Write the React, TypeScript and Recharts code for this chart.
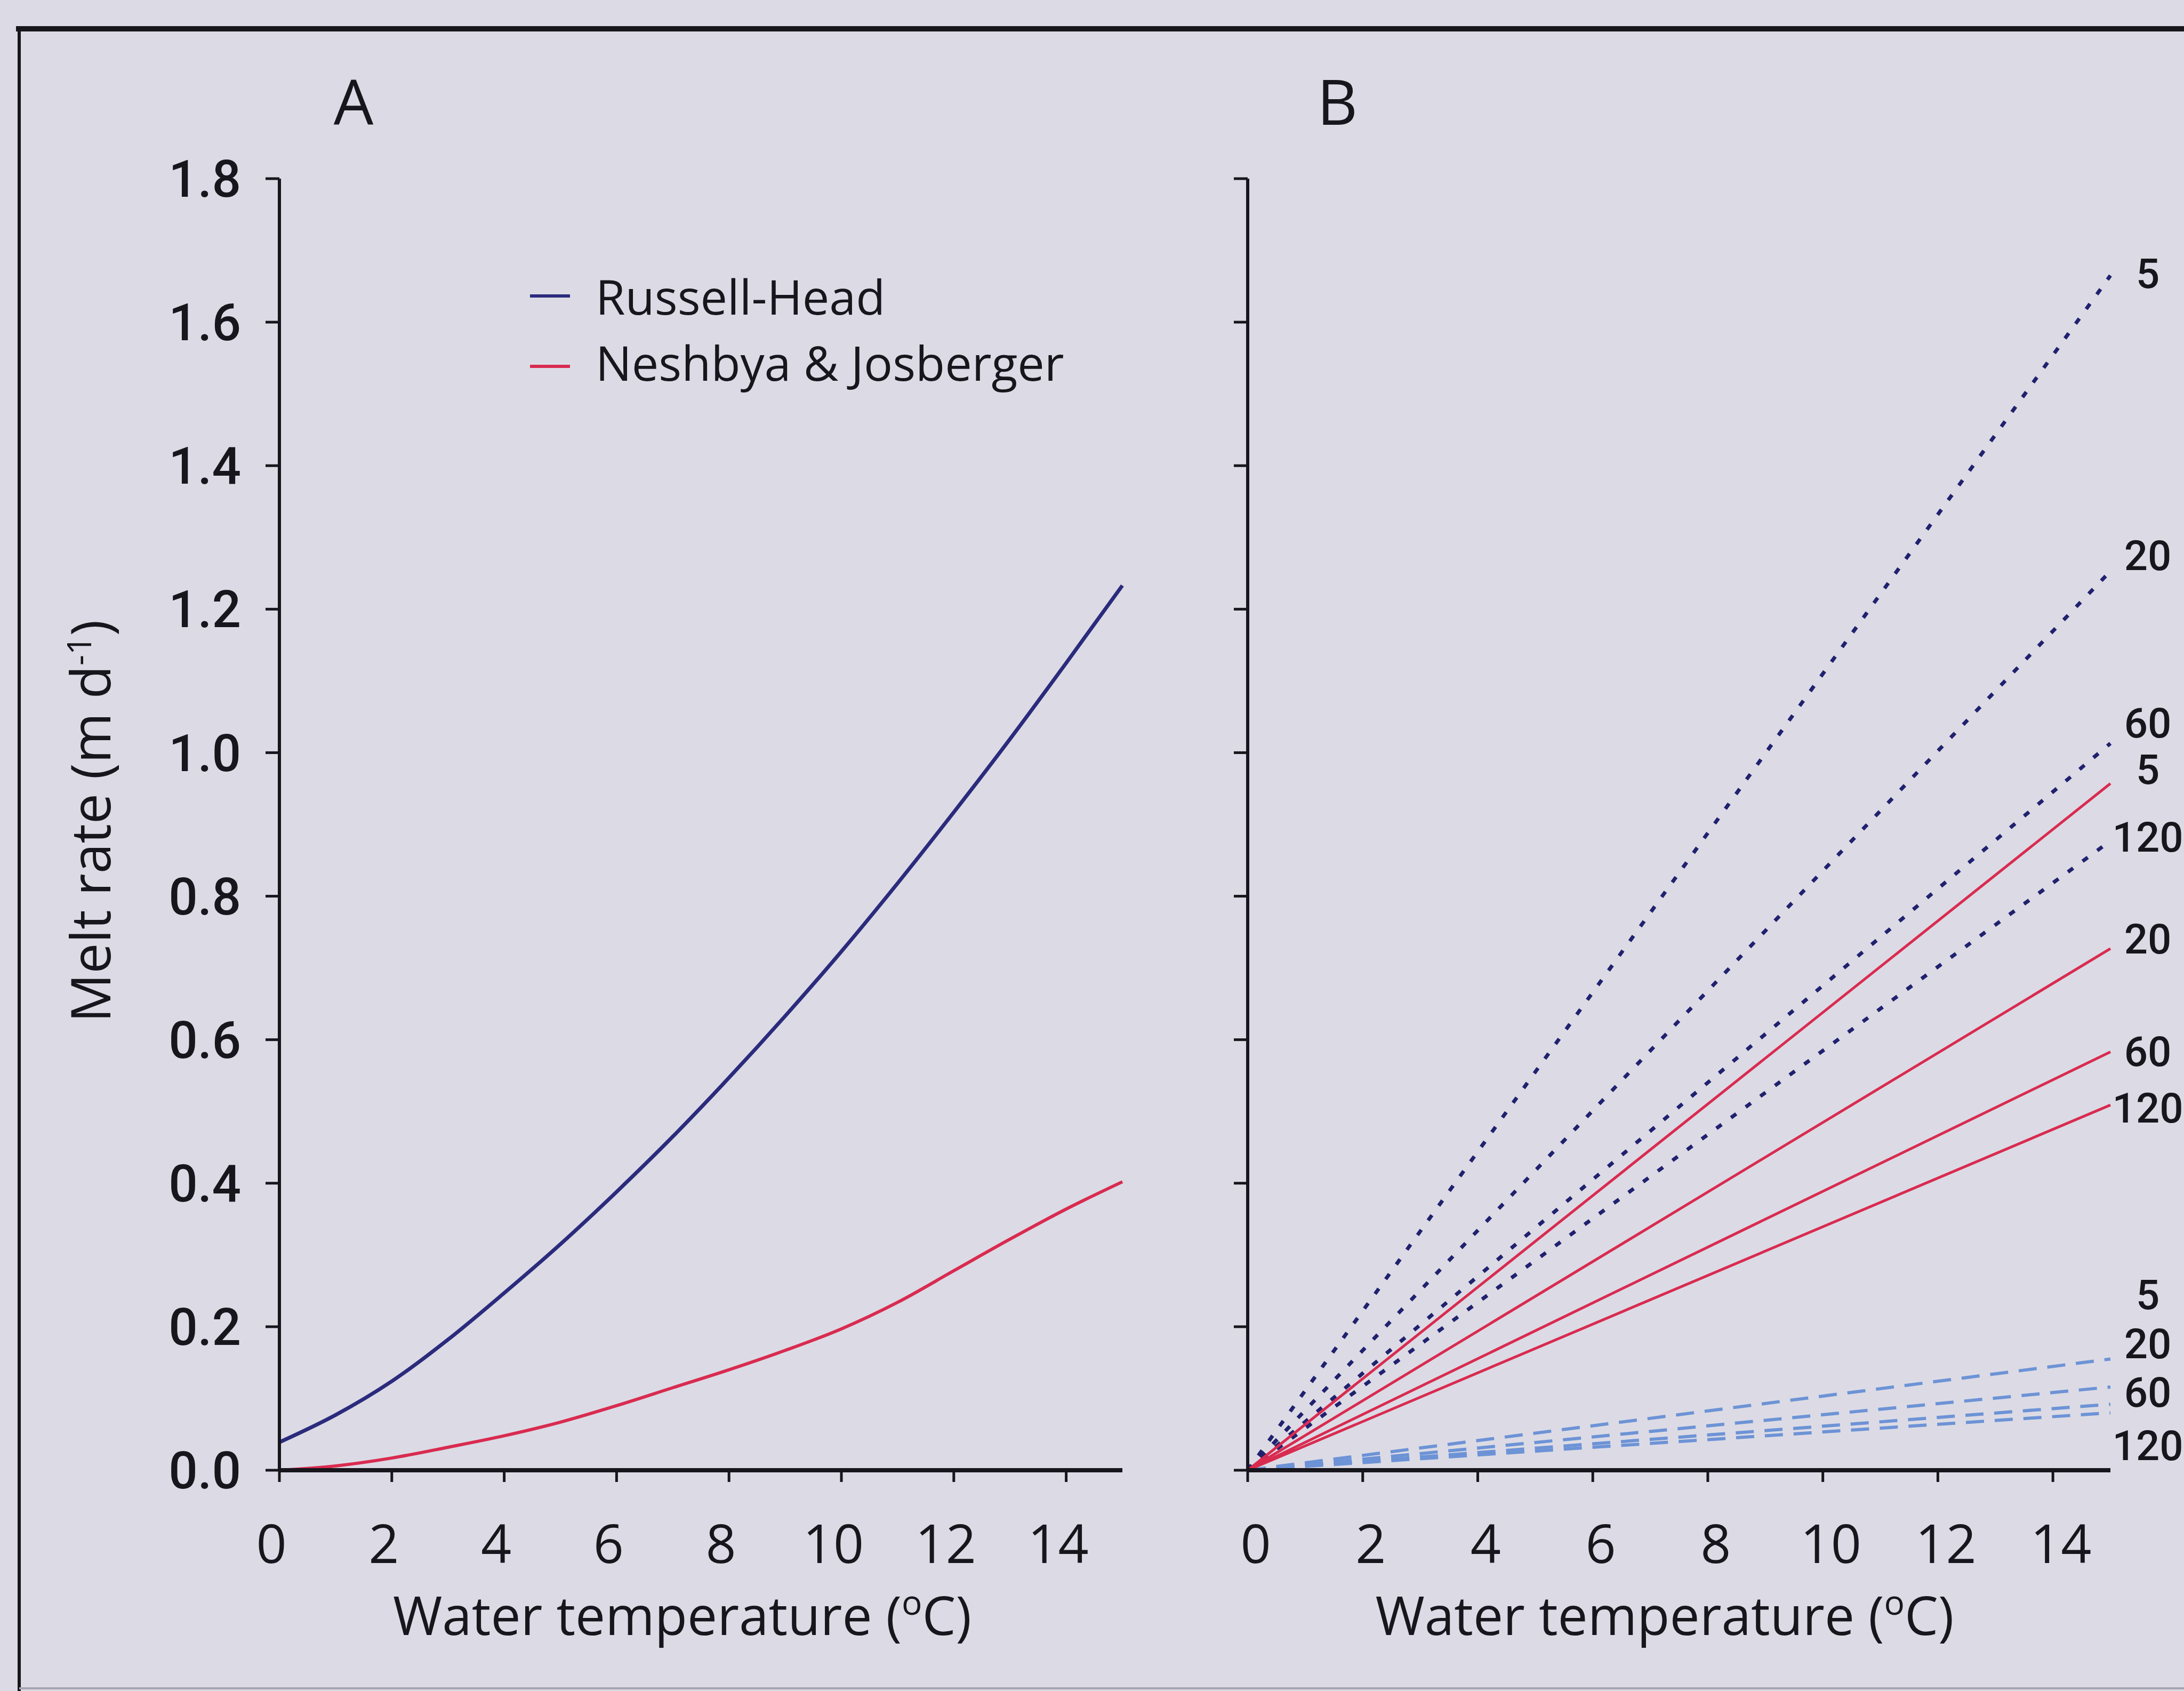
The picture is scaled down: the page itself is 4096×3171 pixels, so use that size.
import React from 'react';
import { LineChart, Line, XAxis, YAxis, Legend, Label, ReferenceDot } from 'recharts';

// ---- panel A: melt rate vs water temperature ----
const temps = [0, 1, 2, 3, 4, 5, 6, 7, 8, 9, 10, 11, 12, 13, 14, 15];
const russellHead = [0.039, 0.077, 0.124, 0.182, 0.247, 0.315, 0.388, 0.465, 0.547, 0.633, 0.723, 0.818, 0.917, 1.019, 1.125, 1.233];
const neshbyaJosberger = [0, 0.006, 0.017, 0.032, 0.048, 0.067, 0.09, 0.115, 0.14, 0.167, 0.197, 0.234, 0.278, 0.322, 0.364, 0.402];
const legendOrder = ['Russell-Head', 'Neshbya & Josberger'];

// ---- panel B: straight lines from the origin, one per iceberg size ----
const bTemps = [0, 15];
const sizes = ['5', '20', '60', '120'];
const rhDotted = [[0, 1.665], [0, 1.253], [0, 1.013], [0, 0.877]];
const njSolid = [[0, 0.957], [0, 0.727], [0, 0.583], [0, 0.509]];
const lowDashed = [[0, 0.155], [0, 0.116], [0, 0.092], [0, 0.08]];

// labels at the right of panel B (value axis position of each tag)
const tagTexts = ['5', '20', '60', '5', '120', '20', '60', '120', '5', '20', '60', '120'];
const tagValues = [1.668, 1.275, 1.042, 0.977, 0.883, 0.741, 0.584, 0.505, 0.245, 0.177, 0.109, 0.035];
const tagTemp = 15.65;

const xTicks = [0, 2, 4, 6, 8, 10, 12, 14];
const yTicks = [0, 0.2, 0.4, 0.6, 0.8, 1.0, 1.2, 1.4, 1.6, 1.8];

const BG = '#dcdbe5';
const INK = '#16161c';
const NAVY = '#2b2b7d';
const RED = '#d92b50';
const DOT_NAVY = '#20216e';
const LIGHT_BLUE = '#6d93d6';
const FONT = '"Open Sans", sans-serif';
const TICK_FONT = 'Roboto, sans-serif';

const dataA = temps.map((t, i) => ({ t, rh: russellHead[i], nj: neshbyaJosberger[i] }));

const dataB = bTemps.map((t, i) => {
  const row: any = { t };
  sizes.forEach((s, k) => {
    row['rh' + s] = rhDotted[k][i];
    row['nj' + s] = njSolid[k][i];
    row['lo' + s] = lowDashed[k][i];
  });
  return row;
});

const xTitle = (shift: number) => (props: any) => {
  const { x, y, width } = props.viewBox;
  return (
    <text x={x + width / 2 + shift} y={y + 309} textAnchor="middle" fontFamily={FONT} fontSize={100} fill={INK}>
      Water temperature (<tspan fontSize={64} dy={-38}>o</tspan>
      <tspan dy={38}>C)</tspan>
    </text>
  );
};

const yTitle = (props: any) => {
  const { y, height } = props.viewBox;
  return (
    <text transform={`translate(207,${y + height / 2 - 6}) rotate(-90)`} textAnchor="middle" fontFamily={FONT} fontSize={102} fill={INK}>
      Melt rate (m d<tspan fontSize={62} dy={-36}>-1</tspan>
      <tspan dy={36}>)</tspan>
    </text>
  );
};

// legend box starts 100px above the first sample line so the text is not clipped
const renderLegend = (props: any) => {
  const items = [...(props.payload || [])].sort(
    (a: any, b: any) => legendOrder.indexOf(a.value) - legendOrder.indexOf(b.value)
  );
  return (
    <svg width={1200} height={380} style={{ overflow: 'visible' }}>
      {items.map((it: any, i: number) => (
        <g key={i}>
          <line x1={4} x2={79} y1={155 + i * 132} y2={155 + i * 132} stroke={it.color} strokeWidth={6} />
          <text x={127} y={190 + i * 124} fontFamily={FONT} fontSize={90} fill={INK}>{it.value}</text>
        </g>
      ))}
    </svg>
  );
};

const axisLine = { stroke: INK, strokeWidth: 8 };
const yLine = { stroke: INK, strokeWidth: 6 };
const tickLine = { stroke: INK, strokeWidth: 5 };

export default function App() {
  return (
    <div style={{ position: 'absolute', left: 0, top: 0, width: 4096, height: 3171, background: BG, overflow: 'hidden' }}>
      <svg width={4096} height={3171} style={{ position: 'absolute', left: 0, top: 0 }}>
        <line x1={30} x2={4096} y1={54} y2={54} stroke={INK} strokeWidth={10} />
        <line x1={36} x2={36} y1={50} y2={3171} stroke={INK} strokeWidth={6} />
        <line x1={36} x2={4096} y1={3166} y2={3166} stroke="#a6a5b2" strokeWidth={4} />
        <text x={663} y={234} textAnchor="middle" fontFamily={FONT} fontSize={118} fill={INK}>A</text>
        <text x={2508} y={234} textAnchor="middle" fontFamily={FONT} fontSize={118} fill={INK}>B</text>
      </svg>

      <div style={{ position: 'absolute', left: 0, top: 0 }}>
        <LineChart width={2200} height={3171} data={dataA} margin={{ top: 335, right: 95, left: 324, bottom: 114 }}>
          <XAxis
            type="number"
            dataKey="t"
            domain={[0, 15]}
            ticks={xTicks}
            height={300}
            axisLine={axisLine}
            tickLine={tickLine}
            tickSize={22}
            tickMargin={81}
            tick={{ fill: INK, fontSize: 100, fontFamily: FONT, dx: -15 }}
            label={<Label content={xTitle(-35)} />}
          />
          <YAxis
            type="number"
            domain={[0, 1.8]}
            ticks={yTicks}
            width={200}
            axisLine={yLine}
            tickLine={tickLine}
            tickSize={26}
            tickMargin={46}
            tickFormatter={(v: number) => v.toFixed(1)}
            tick={{ fill: INK, fontSize: 96, fontFamily: TICK_FONT, fontWeight: 500 }}
            label={<Label content={yTitle} />}
          />
          <Legend
            layout="vertical"
            align="center"
            verticalAlign="middle"
            content={renderLegend}
            wrapperStyle={{ left: 990, top: 400, width: 1200, height: 380 }}
          />
          <Line type="monotone" dataKey="rh" name="Russell-Head" stroke={NAVY} strokeWidth={7} dot={false} activeDot={false} isAnimationActive={false} />
          <Line type="monotone" dataKey="nj" name="Neshbya & Josberger" stroke={RED} strokeWidth={6} dot={false} activeDot={false} isAnimationActive={false} />
        </LineChart>
      </div>

      <div style={{ position: 'absolute', left: 2000, top: 0 }}>
        <LineChart width={2096} height={3171} data={dataB} margin={{ top: 335, right: 138, left: 240, bottom: 114 }}>
          <XAxis
            type="number"
            dataKey="t"
            domain={[0, 15]}
            ticks={xTicks}
            height={300}
            axisLine={axisLine}
            tickLine={tickLine}
            tickSize={22}
            tickMargin={81}
            tick={{ fill: INK, fontSize: 100, fontFamily: FONT, dx: 15 }}
            label={<Label content={xTitle(-27)} />}
          />
          <YAxis
            type="number"
            domain={[0, 1.8]}
            ticks={yTicks}
            width={100}
            axisLine={yLine}
            tickLine={tickLine}
            tickSize={26}
            tickFormatter={() => ''}
          />
          {sizes.map((s) => (
            <Line key={'lo' + s} type="linear" dataKey={'lo' + s} stroke={LIGHT_BLUE} strokeWidth={6} strokeDasharray="34 20" dot={false} activeDot={false} isAnimationActive={false} />
          ))}
          {sizes.map((s) => (
            <Line key={'rh' + s} type="linear" dataKey={'rh' + s} stroke={DOT_NAVY} strokeWidth={7} strokeDasharray="12 22" dot={false} activeDot={false} isAnimationActive={false} />
          ))}
          {sizes.map((s) => (
            <Line key={'nj' + s} type="linear" dataKey={'nj' + s} stroke={RED} strokeWidth={5} dot={false} activeDot={false} isAnimationActive={false} />
          ))}
          {tagTexts.map((txt, i) => (
            <ReferenceDot
              key={'tag' + i}
              x={tagTemp}
              y={tagValues[i]}
              r={1}
              fill="none"
              stroke="none"
              ifOverflow="visible"
              label={{ value: txt, position: 'center', fontSize: 78, fontFamily: TICK_FONT, fontWeight: 500, fill: INK }}
            />
          ))}
        </LineChart>
      </div>
    </div>
  );
}
